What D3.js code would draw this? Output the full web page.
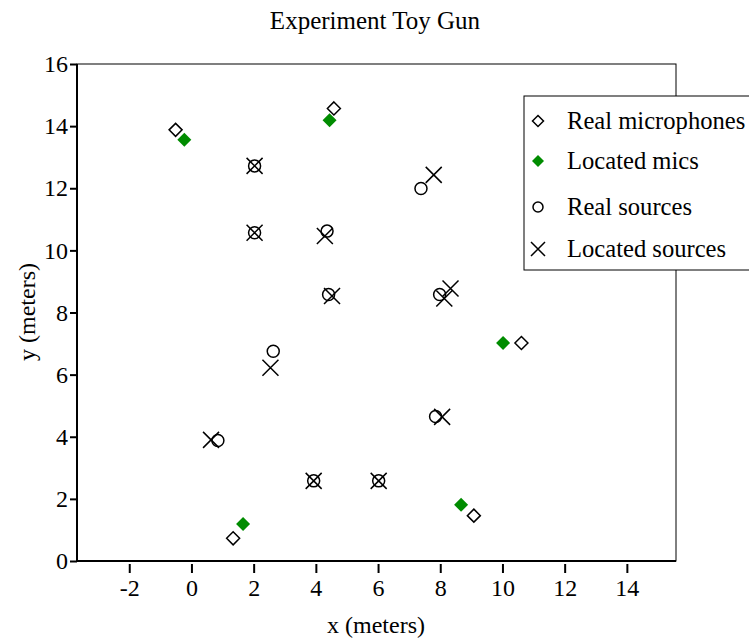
<!DOCTYPE html>
<html lang="en">
<head>
    <meta charset="UTF-8">
    <title>Experiment Toy Gun</title>
    <script src="https://d3js.org/d3.v7.min.js"></script>
    <style>
        body { margin: 0; background: white; }
        svg text { font-family: "Liberation Serif", "Times New Roman", serif; fill: black; }
    </style>
</head>
<body>
<svg width="749" height="640"></svg>
<script>
// Real microphone positions (x, y in meters)
var realMicsX = [-0.51, 4.58, 10.61, 9.08, 1.34];
var realMicsY = [13.88, 14.57, 7.02, 1.46, 0.73];

// Located microphone positions
var locMicsX = [-0.23, 4.44, 10.02, 8.67, 1.66];
var locMicsY = [13.56, 14.19, 7.02, 1.81, 1.19];

// Real sound sources
var realSrcX = [2.03, 2.03, 4.36, 7.38, 4.41, 7.98, 2.63, 7.85, 0.85, 3.93, 6.02];
var realSrcY = [12.72, 10.57, 10.62, 11.99, 8.58, 8.58, 6.75, 4.65, 3.88, 2.58, 2.58];

// Located sound sources
var locSrcX = [2.03, 2.03, 4.29, 7.79, 4.52, 8.33, 8.13, 2.54, 8.06, 0.63, 3.93, 6.02];
var locSrcY = [12.72, 10.57, 10.46, 12.43, 8.53, 8.77, 8.45, 6.22, 4.64, 3.90, 2.58, 2.58];

var xTicks = [-2, 0, 2, 4, 6, 8, 10, 12, 14];
var yTicks = [0, 2, 4, 6, 8, 10, 12, 14, 16];
var legendLabels = ["Real microphones", "Located mics", "Real sources", "Located sources"];

var svg = d3.select("svg");

// plot area edges
var pLeft = 77, pRight = 676, pTop = 64, pBottom = 561;

var x = d3.scaleLinear().domain([-3.68, 15.58]).range([pLeft, pRight]);
var y = d3.scaleLinear().domain([0, 16]).range([pBottom, pTop]);

function pts(xs, ys) {
    return xs.map(function (v, i) { return {x: v, y: ys[i]}; });
}

// marker paths
function diamond(s) {
    return "M0," + (-s) + "L" + s + ",0L0," + s + "L" + (-s) + ",0Z";
}
function cross(s) {
    return "M" + (-s) + "," + (-s) + "L" + s + "," + s + "M" + (-s) + "," + s + "L" + s + "," + (-s);
}

// Frame
svg.append("rect")
    .attr("x", pLeft)
    .attr("y", pTop)
    .attr("width", pRight - pLeft)
    .attr("height", pBottom - pTop)
    .attr("fill", "none")
    .attr("stroke", "black")
    .attr("stroke-width", 1);

// Left axis
var yAxis = svg.append("g")
    .attr("transform", "translate(" + pLeft + ",0)")
    .call(d3.axisLeft(y).tickValues(yTicks).tickSize(7).tickPadding(2));

// Bottom axis
var xAxis = svg.append("g")
    .attr("transform", "translate(0," + pBottom + ")")
    .call(d3.axisBottom(x).tickValues(xTicks).tickSize(12).tickPadding(6)
        .tickFormat(function (d) { return String(d); }));

[xAxis, yAxis].forEach(function (ax) {
    ax.select(".domain").remove();
    ax.selectAll(".tick line").attr("stroke-width", 2);
    ax.selectAll(".tick text")
        .attr("font-family", "Liberation Serif")
        .attr("font-size", "24px");
});
xAxis.selectAll(".tick line").attr("y1", 3);

svg.append("line")
    .attr("x1", pLeft - 1).attr("x2", pRight)
    .attr("y1", pBottom).attr("y2", pBottom)
    .attr("stroke", "black").attr("stroke-width", 2);
svg.append("line")
    .attr("x1", pLeft).attr("x2", pLeft)
    .attr("y1", pTop).attr("y2", pBottom)
    .attr("stroke", "black").attr("stroke-width", 2);

// Title and axis labels
svg.append("text")
    .attr("x", 375)
    .attr("y", 29)
    .attr("text-anchor", "middle")
    .attr("font-size", "25px")
    .text("Experiment Toy Gun");

svg.append("text")
    .attr("x", 376)
    .attr("y", 633)
    .attr("text-anchor", "middle")
    .attr("font-size", "24px")
    .text("x (meters)");

svg.append("text")
    .attr("transform", "translate(35,312) rotate(-90)")
    .attr("text-anchor", "middle")
    .attr("font-size", "24px")
    .text("y (meters)");

// Points
var plot = svg.append("g");

plot.selectAll(".rsrc")
    .data(pts(realSrcX, realSrcY))
    .enter()
    .append("circle")
    .attr("class", "rsrc")
    .attr("cx", function (d) { return x(d.x); })
    .attr("cy", function (d) { return y(d.y); })
    .attr("r", 6)
    .attr("fill", "none")
    .attr("stroke", "black")
    .attr("stroke-width", 1.5);

plot.selectAll(".lsrc")
    .data(pts(locSrcX, locSrcY))
    .enter()
    .append("path")
    .attr("class", "lsrc")
    .attr("transform", function (d) { return "translate(" + x(d.x) + "," + y(d.y) + ")"; })
    .attr("d", cross(8))
    .attr("fill", "none")
    .attr("stroke", "black")
    .attr("stroke-width", 1.5);

plot.selectAll(".rmic")
    .data(pts(realMicsX, realMicsY))
    .enter()
    .append("path")
    .attr("class", "rmic")
    .attr("transform", function (d) { return "translate(" + x(d.x) + "," + y(d.y) + ")"; })
    .attr("d", diamond(6.5))
    .attr("fill", "white")
    .attr("stroke", "black")
    .attr("stroke-width", 1.5);

plot.selectAll(".lmic")
    .data(pts(locMicsX, locMicsY))
    .enter()
    .append("path")
    .attr("class", "lmic")
    .attr("transform", function (d) { return "translate(" + x(d.x) + "," + y(d.y) + ")"; })
    .attr("d", diamond(7))
    .attr("fill", "#008c00");

// Legend
var legend = svg.append("g")
    .attr("transform", "translate(524,96)");

legend.append("rect")
    .attr("x", 0)
    .attr("y", 0)
    .attr("width", 240)
    .attr("height", 174)
    .attr("fill", "white")
    .attr("stroke", "black")
    .attr("stroke-width", 1);

var rowY = [25, 65, 111, 153];

legend.append("path")
    .attr("transform", "translate(14," + rowY[0] + ")")
    .attr("d", diamond(5.5))
    .attr("fill", "white")
    .attr("stroke", "black")
    .attr("stroke-width", 1.5);
legend.append("path")
    .attr("transform", "translate(14," + rowY[1] + ")")
    .attr("d", diamond(6))
    .attr("fill", "#008c00");
legend.append("circle")
    .attr("cx", 14)
    .attr("cy", rowY[2])
    .attr("r", 5)
    .attr("fill", "none")
    .attr("stroke", "black")
    .attr("stroke-width", 1.5);
legend.append("path")
    .attr("transform", "translate(14," + rowY[3] + ")")
    .attr("d", cross(7))
    .attr("fill", "none")
    .attr("stroke", "black")
    .attr("stroke-width", 1.5);

legend.selectAll(".lab")
    .data(legendLabels)
    .enter()
    .append("text")
    .attr("class", "lab")
    .attr("x", 43)
    .attr("y", function (d, i) { return rowY[i] + 8; })
    .attr("font-size", "24.6px")
    .text(function (d) { return d; });
</script>
</body>
</html>
